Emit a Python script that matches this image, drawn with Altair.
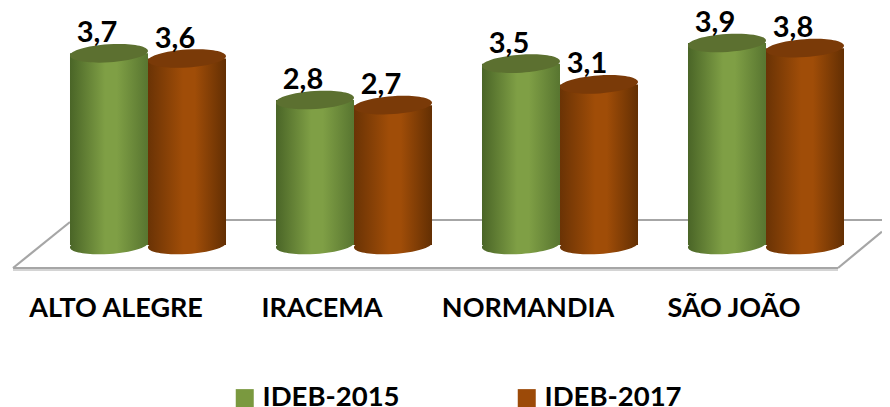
import altair as alt
import pandas as pd

categories = ["ALTO ALEGRE", "IRACEMA", "NORMANDIA", "SÃO JOÃO"]
series = ["IDEB-2015", "IDEB-2017"]
ideb_2015 = [3.7, 2.8, 3.5, 3.9]
ideb_2017 = [3.6, 2.7, 3.1, 3.8]
value_labels_2015 = ["3,7", "2,8", "3,5", "3,9"]
value_labels_2017 = ["3,6", "2,7", "3,1", "3,8"]

rows = []
for name, vals, labs in [(series[0], ideb_2015, value_labels_2015), (series[1], ideb_2017, value_labels_2017)]:
    for c, v, l in zip(categories, vals, labs):
        rows.append({"cat": c, "serie": name, "value": v, "label": l})
df = pd.DataFrame(rows)

FONT = "Lato"
ELLIPSE = "M-1,0.065 A1,0.23,-3.7,1,1,1,-0.065 A1,0.23,-3.7,1,1,-1,0.065 Z"
SIZE = 78 * 78

flat = {series[0]: "#7a993f", series[1]: "#9c4a08"}
top = {series[0]: "#5c7030", series[1]: "#7a3a08"}
body = {
    series[0]: ["#4a6527", "#7f9f45", "#7f9f45", "#587530"],
    series[1]: ["#6a3305", "#a04d08", "#a04d08", "#632f03"],
}


def grad(colors):
    return alt.Gradient(
        gradient="linear", x1=0, x2=1, y1=0, y2=0,
        stops=[
            alt.GradientStop(offset=0, color=colors[0]),
            alt.GradientStop(offset=0.45, color=colors[1]),
            alt.GradientStop(offset=0.6, color=colors[2]),
            alt.GradientStop(offset=1, color=colors[3]),
        ],
    )


x = alt.X(
    "cat:N", sort=categories, title=None,
    scale=alt.Scale(range=[37, 861], paddingInner=0.2427, paddingOuter=0.12135),
    axis=alt.Axis(
        domain=False, ticks=False, grid=False, labelAngle=0, labelOffset=-32, labelPadding=50,
        labelFont=FONT, labelFontWeight="bold", labelFontSize=27, labelColor="black", labelLimit=300,
    ),
)
xo = alt.XOffset("serie:N", sort=series, scale=alt.Scale(domain=series, paddingInner=0, paddingOuter=0))
y = alt.Y("value:Q", axis=None, scale=alt.Scale(domain=[0, 4.575], nice=False, zero=True))
base = alt.Chart(df)

one = alt.Chart(pd.DataFrame({"a": [0]}))


def rule(x1, x2, y1, y2, color="#a6a6a6", w=2.2):
    return one.mark_rule(color=color, strokeWidth=w).encode(
        x=alt.value(x1), x2=alt.value(x2), y=alt.value(y1), y2=alt.value(y2)
    )


floor = [
    rule(5, 830, 262, 262, "#d4d4d4", 2),
    rule(62, 874, 212, 212),
    rule(5, 830, 260, 260),
    rule(5, 62, 260, 214),
    rule(830, 874, 260, 223.6),
]

legend_bars = base.mark_bar(size=70).encode(
    x=x, xOffset=xo, y=y,
    color=alt.Color(
        "serie:N", sort=series,
        scale=alt.Scale(domain=series, range=[flat[s] for s in series]),
        legend=alt.Legend(
            title=None, orient="none", legendX=223, legendY=376, direction="horizontal", columns=2,
            symbolType="square", symbolSize=324, symbolStrokeWidth=0, columnPadding=113, labelOffset=4,
            labelFont=FONT, labelFontWeight="bold", labelFontSize=27.5, labelColor="black",
            padding=0, labelLimit=300,
        ),
    ),
)

layers = floor + [legend_bars]
for s in series:
    sub = base.transform_filter(alt.datum.serie == s)
    g = grad(body[s])
    layers.append(
        sub.mark_point(shape=ELLIPSE, size=SIZE, filled=True, opacity=1, color=g).encode(
            x=x, xOffset=xo, y=alt.value(237)
        )
    )
    layers.append(sub.mark_bar(size=78, color=g).encode(x=x, xOffset=xo, y=y))
    layers.append(
        sub.mark_point(shape=ELLIPSE, size=SIZE, filled=True, opacity=1, color=top[s]).encode(
            x=x, xOffset=xo, y=y
        )
    )
    layers.append(
        sub.mark_text(font=FONT, fontWeight="bold", fontSize=29, color="black", dx=-12, dy=-20).encode(
            x=x, xOffset=xo, y=y, text="label:N"
        )
    )

chart = (
    alt.layer(*layers)
    .properties(
        width=874, height=237,
        padding={"left": 0, "top": 0, "right": 0, "bottom": 162},
        autosize=alt.AutoSizeParams(type="none"),
        background="white",
    )
    .configure_view(stroke=None)
)
chart.save("out.html", embed_options={"renderer": "svg", "actions": False})
